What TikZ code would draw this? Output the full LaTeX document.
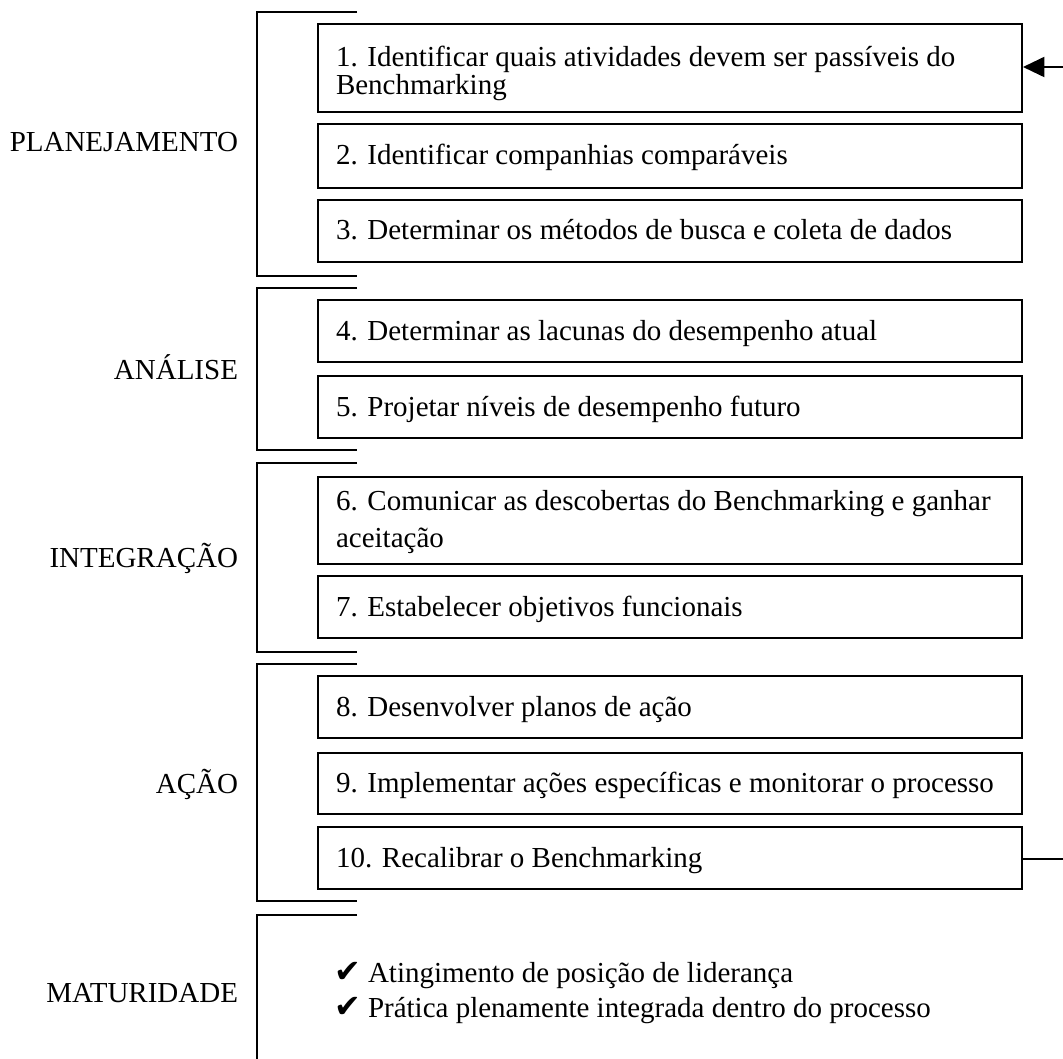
\documentclass[tikz,border=0pt]{standalone}
\usepackage{fontspec}
\setmainfont{Liberation Serif}
\newfontfamily\symfont{DejaVu Sans}
\usetikzlibrary{arrows.meta}
\begin{document}
\begin{tikzpicture}[x=0.75pt,y=-0.75pt,
  line width=1.5pt,
  stepbox/.style={draw, rectangle, minimum width=528pt, inner sep=0pt},
  txt/.style={font=\fontsize{21.75pt}{26pt}\selectfont, inner sep=0pt, anchor=base west},
  lbl/.style={font=\fontsize{21.75pt}{26pt}\selectfont, inner sep=0pt, anchor=base east},
  bracket/.style={line width=1.5pt},
  arrowin/.style={-{Triangle[length=16pt,width=15pt]}}]
\useasboundingbox (0,0) rectangle (1063,1059);

% brackets
\draw[bracket] (357,12) -| (257,276) -- (357,276);
\draw[bracket] (357,288) -| (257,450) -- (357,450);
\draw[bracket] (357,463) -| (257,652) -- (357,652);
\draw[bracket] (357,664) -| (257,901) -- (357,901);
\draw[bracket] (357,915) -| (257,1062);

% phase labels
\node[lbl] (lp) at (239,152) {PLANEJAMENTO};
\node[lbl] (la) at (239,379) {ANÁLISE};
\node[lbl] (li) at (239,567) {INTEGRAÇÃO};
\node[lbl] (lc) at (239,793) {AÇÃO};
\node[lbl] (lm) at (239,1002) {MATURIDADE};

% step boxes
\node[stepbox, minimum height=66pt]    (b1)  at (670,68)    {};
\node[stepbox, minimum height=48pt]    (b2)  at (670,156)   {};
\node[stepbox, minimum height=46.5pt]  (b3)  at (670,231)   {};
\node[stepbox, minimum height=46.5pt]  (b4)  at (670,331)   {};
\node[stepbox, minimum height=46.5pt]  (b5)  at (670,407)   {};
\node[stepbox, minimum height=65.25pt] (b6)  at (670,520.5) {};
\node[stepbox, minimum height=46.5pt]  (b7)  at (670,607)   {};
\node[stepbox, minimum height=46.5pt]  (b8)  at (670,707)   {};
\node[stepbox, minimum height=45.75pt] (b9)  at (670,783.5) {};
\node[stepbox, minimum height=46.5pt]  (b10) at (670,858)   {};

% step texts
\node[txt] (t1a) at (335,67)  {1. Identificar quais atividades devem ser passíveis do};
\node[txt] (t1b) at (335,95)  {Benchmarking};
\node[txt] (t2)  at (335,165) {2. Identificar companhias comparáveis};
\node[txt] (t3)  at (335,240) {3. Determinar os métodos de busca e coleta de dados};
\node[txt] (t4)  at (335,340) {4. Determinar as lacunas do desempenho atual};
\node[txt] (t5)  at (335,416) {5. Projetar níveis de desempenho futuro};
\node[txt] (t6a) at (335,510) {6. Comunicar as descobertas do Benchmarking e ganhar};
\node[txt] (t6b) at (335,547) {aceitação};
\node[txt] (t7)  at (335,616) {7. Estabelecer objetivos funcionais};
\node[txt] (t8)  at (335,716) {8. Desenvolver planos de ação};
\node[txt] (t9)  at (335,792) {9. Implementar ações específicas e monitorar o processo};
\node[txt] (t10) at (335,867) {10. Recalibrar o Benchmarking};

% maturity items
\node[txt] (m1) at (333,982)  {\makebox[25.5pt][l]{\symfont\fontsize{24pt}{26pt}\selectfont ✔}Atingimento de posição de liderança};
\node[txt] (m2) at (333,1017) {\makebox[25.5pt][l]{\symfont\fontsize{24pt}{26pt}\selectfont ✔}Prática plenamente integrada dentro do processo};

% feedback stubs
\coordinate (fin)  at (1063,67);
\coordinate (fout) at (1063,859);
\draw[arrowin] (fin) -- (fin -| b1.east);
\draw (b10.east |- fout) -- (fout);
\end{tikzpicture}
\end{document}
